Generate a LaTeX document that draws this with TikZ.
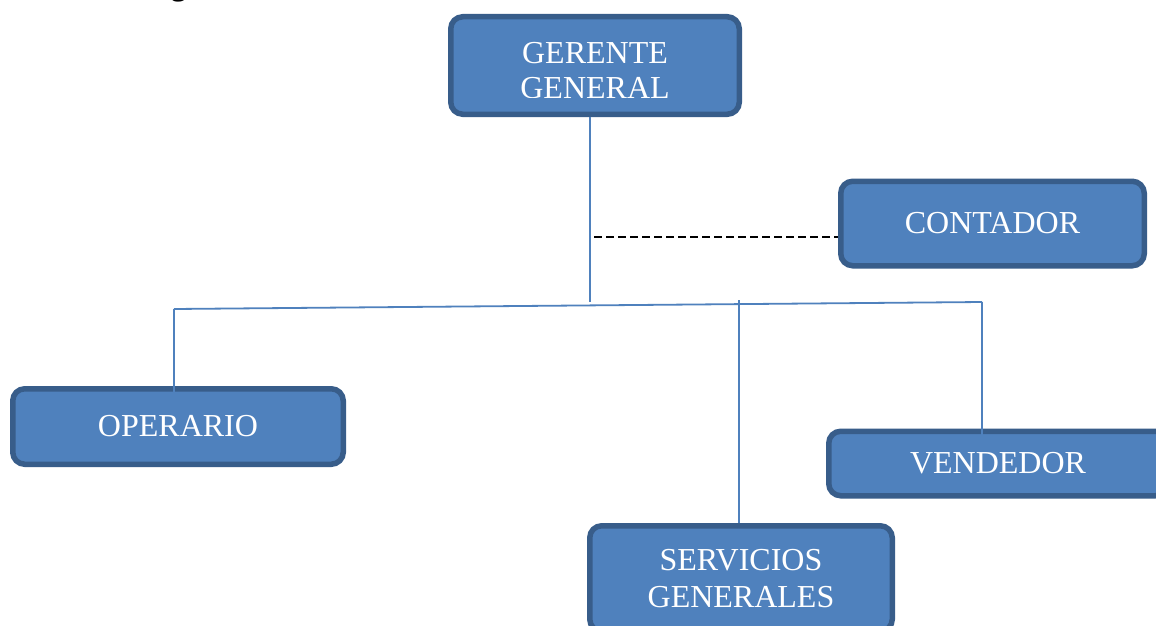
\documentclass[tikz,border=0pt]{standalone}
\usepackage{fontspec}
\setmainfont{Liberation Serif}
\definecolor{boxfill}{RGB}{79,129,189}
\definecolor{boxedge}{RGB}{56,93,138}
\definecolor{linkc}{RGB}{79,129,189}
\begin{document}
\begin{tikzpicture}[x=1pt,y=-1pt,
  orgbox/.style={draw=boxedge, fill=boxfill, line width=5.5pt, rounded corners=12pt,
    inner sep=0pt, text=white, align=center, font=\fontsize{32}{36}\selectfont},
  link/.style={draw=linkc, line width=1.8pt},
  dotlink/.style={draw=black, line width=2pt, dash pattern=on 8pt off 4pt},
  lbl/.style={text=white, align=center, font=\fontsize{32}{35}\selectfont, inner sep=0pt}]
\useasboundingbox (0,0) rectangle (1156,626);
\fill[white] (0,0) rectangle (1156,626);
% clipped heading fragment
\node[anchor=base west, inner sep=0pt, font=\bfseries\fontsize{30}{34}\selectfont] (head) at (171,-4.5) {g};
% boxes
\node[orgbox, minimum width=288.5pt, minimum height=97.5pt] (gg) at (595,65.5) {};
\begin{scope}
  \clip (450,16) rectangle (740,97.5);
  \node[lbl] (ggtext) at (595,70.5) {GERENTE\\GENERAL};
\end{scope}
\node[orgbox, minimum width=303.5pt, minimum height=84.5pt] (ct) at (992.5,223.5) {CONTADOR};
\node[orgbox, minimum width=330.5pt, minimum height=75.5pt] (op) at (178,426.5) {OPERARIO};
\node[orgbox, minimum width=338.5pt, minimum height=64.5pt] (vd) at (998,463.5) {VENDEDOR};
\node[orgbox, minimum width=302.5pt, minimum height=105.5pt, font=\fontsize{32}{37}\selectfont] (sv) at (741,578.5) {SERVICIOS\\GENERALES};
% connector coordinates
\coordinate (j1) at (590,302);
\coordinate (hl) at (174,309);
\coordinate (hr) at (982,302);
\coordinate (opin) at (174,402);
\coordinate (vdin) at (982,436);
\coordinate (svtop) at (739,300);
\coordinate (dl) at (594,237);
% connectors
\draw[link] (gg.south -| j1) -- (j1);
\draw[link] (hl) -- (hr);
\draw[link] (hl) -- (opin);
\draw[link] (hr) -- (vdin);
\draw[link] (svtop) -- (sv.north -| svtop);
\draw[dotlink] (dl) -- (ct.west |- dl);
\end{tikzpicture}
\end{document}
